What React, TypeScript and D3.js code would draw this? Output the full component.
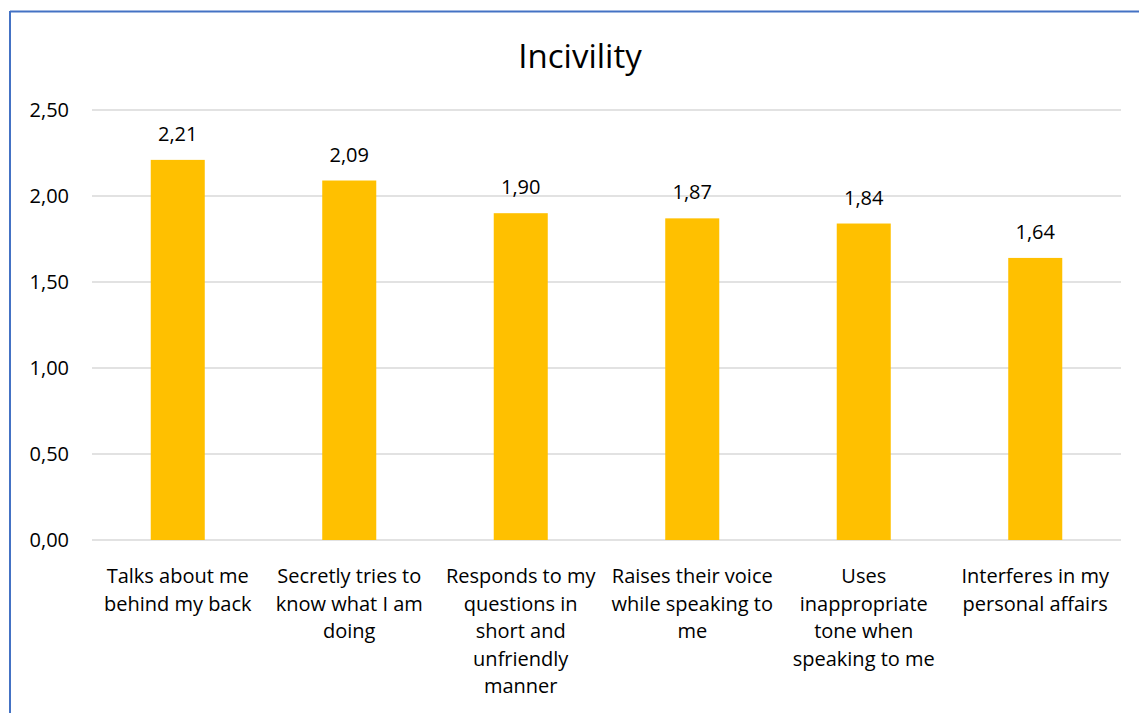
import * as d3 from 'd3'

const categories = [
  ['Talks about me', 'behind my back'],
  ['Secretly tries to', 'know what I am', 'doing'],
  ['Responds to my', 'questions in', 'short and', 'unfriendly', 'manner'],
  ['Raises their voice', 'while speaking to', 'me'],
  ['Uses', 'inappropriate', 'tone when', 'speaking to me'],
  ['Interferes in my', 'personal affairs'],
]
const values = [2.21, 2.09, 1.9, 1.87, 1.84, 1.64]
const yTicks = [0, 0.5, 1, 1.5, 2, 2.5]

const W = 1139
const H = 713
const plot = { left: 92, right: 1121, top: 110, bottom: 540 }
const font = 'Open Sans, Noto Sans, sans-serif'
const fmt = (v: number) => v.toFixed(2).replace('.', ',')

export default function App() {
  const x = d3
    .scaleBand<number>()
    .domain(values.map((_, i) => i))
    .range([plot.left, plot.right])
    .paddingInner(0.685)
    .paddingOuter(0.3425)
  const y = d3.scaleLinear().domain([0, 2.5]).range([plot.bottom, plot.top])

  return (
    <svg
      width={W}
      height={H}
      style={{ position: 'absolute', left: 0, top: 0, background: '#fff' }}
      fontFamily={font}
    >
      <rect x={0} y={0} width={W} height={H} fill="#fff" />
      <line x1={10} y1={11.5} x2={W} y2={11.5} stroke="#4472C4" strokeWidth={2} />
      <line x1={10} y1={11} x2={10} y2={H} stroke="#4472C4" strokeWidth={2} />
      <text x={580} y={68} textAnchor="middle" fontSize={33} fill="#000">
        Incivility
      </text>
      {yTicks.map((t) => (
        <g key={t}>
          <line x1={plot.left} x2={plot.right} y1={y(t)} y2={y(t)} stroke="#d9d9d9" strokeWidth={1.3} />
          <text x={69} y={y(t)} dy="0.35em" textAnchor="end" fontSize={20} fill="#000">
            {fmt(t)}
          </text>
        </g>
      ))}
      {values.map((v, i) => {
        const cx = (x(i) ?? 0) + x.bandwidth() / 2
        return (
          <g key={i}>
            <rect x={x(i)} y={y(v)} width={x.bandwidth()} height={plot.bottom - y(v)} fill="#FFC000" />
            <text x={cx} y={y(v) - 19} textAnchor="middle" fontSize={20} fill="#000">
              {fmt(v)}
            </text>
            {categories[i].map((line, j) => (
              <text key={j} x={cx} y={583 + j * 27.5} textAnchor="middle" fontSize={20} fill="#000">
                {line}
              </text>
            ))}
          </g>
        )
      })}
    </svg>
  )
}
